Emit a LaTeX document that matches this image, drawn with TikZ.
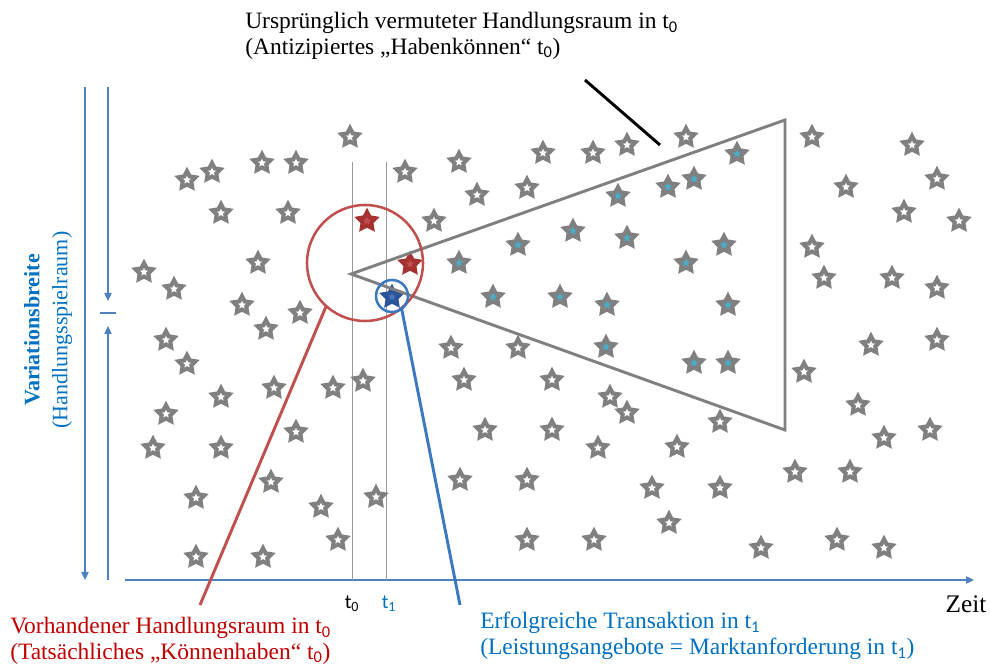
\documentclass[tikz,border=0pt]{standalone}
\usepackage{fontspec}
\setmainfont{Liberation Serif}
\newfontfamily\carl{Carlito}
\usepackage{xcolor}
\usetikzlibrary{shapes.geometric,arrows.meta}

\definecolor{axisblue}{RGB}{79,129,189}
\definecolor{txtblue}{RGB}{0,112,192}
\definecolor{txtred}{RGB}{192,0,0}
\definecolor{circred}{RGB}{192,80,77}
\definecolor{circblue}{RGB}{58,120,192}
\definecolor{stargray}{RGB}{128,128,128}
\definecolor{coreteal}{RGB}{75,172,198}
\definecolor{starred}{RGB}{165,50,48}
\definecolor{starblue}{RGB}{45,84,150}
\definecolor{coreblue}{RGB}{70,115,185}

\newcommand{\tsub}[1]{\textsubscript{\carl #1}}

\begin{document}
\begin{tikzpicture}[
    x=0.75pt, y=-0.75pt,
    gs/.style={star, star points=5, star point ratio=1.95, minimum size=20pt, inner sep=0pt, outer sep=0pt, fill=#1},
    gs/.default=stargray,
    core/.style={star, star points=5, star point ratio=2.2, minimum size=6.5pt, inner sep=0pt, fill=#1},
    ax/.style={draw=axisblue, line width=0.9pt, -{Triangle[length=6pt,width=5.5pt]}},
    tl/.style={draw=black!40, line width=0.6pt},
    ring/.style={circle, draw=#1, line width=1.9pt, inner sep=0pt, outer sep=0pt},
    lnk/.style={draw=#1, line width=2.2pt},
    lbl/.style={inner sep=0pt, align=left, anchor=north west, font=\fontsize{17.6}{19.4}\selectfont}
]
    \useasboundingbox (0,0) rectangle (990,666);

    % axes
    \draw [ax] (85,87) -- (85,580);
    \draw [ax] (108,87) -- (108,301);
    \draw [draw=axisblue, line width=0.9pt] (100,313) -- (116,313);
    \draw [ax] (108,580) -- (108,326);
    \draw [ax] (125,580) -- (974,580);
    \draw [tl] (352,162) -- (352,580);
    \draw [tl] (386,162) -- (386,580);

    % stars outside
    \foreach \x/\y [count=\i] in {350/137, 187/180, 212/172, 262/163, 296/163, 405/172, 221/213, 288/213,
        258/263, 144/272, 174/289, 242/305, 300/313, 266/329, 166/340,
        459/162, 543/153, 593/153, 627/145, 686/137, 477/195, 527/188, 434/221,
        812/137, 912/145, 846/187, 937/179, 904/212, 959/221, 812/247, 824/278, 892/278, 937/288, 871/345, 937/340,
        187/364, 221/397, 274/388, 333/388, 363/381, 166/414, 296/432, 153/448, 221/448, 271/482, 196/498,
        321/507, 376/497, 338/540, 196/557, 263/557,
        451/348, 518/348, 804/372, 464/380, 552/380, 610/397, 627/413, 720/422, 858/405, 485/430, 552/430,
        884/438, 930/430, 598/448, 677/447, 460/480, 527/480, 795/472, 850/472, 652/488, 720/488, 669/523,
        527/540, 594/540, 761/548, 837/540, 884/548}
    {
        \node [gs] (w\i) at (\x,\y) {};
        \node [core=white] (w\i c) at (w\i) {};
    }

    % stars inside
    \foreach \x/\y [count=\i] in {737/154, 618/196, 668/187, 694/179, 573/231, 627/238, 724/245, 518/245,
        459/263, 686/263, 493/297, 560/297, 607/305, 728/305, 606/347, 694/363, 728/363}
    {
        \node [gs] (t\i) at (\x,\y) {};
        \node [core=coreteal] (t\i c) at (t\i) {};
    }

    \node [gs=starred] (r1) at (367,221) {};
    \node [core=circred] (r1c) at (r1) {};
    \node [gs=starred] (r2) at (410,264) {};
    \node [core=circred] (r2c) at (r2) {};
    \node [gs=starblue] (b1) at (392,297) {};
    \node [core=coreblue] (b1c) at (b1) {};

    % triangle
    \draw [draw=stargray, line width=2.2pt, line join=miter] (351,274) -- (785,120) -- (785,430) -- cycle;

    \node [ring=circred, minimum size=87pt] (rc) at (365,263) {};
    \node [ring=circblue, minimum size=24pt] (bc) at (392,296) {};

    % labels
    \node [lbl] (top) at (245,12) {Ursprünglich vermuteter Handlungsraum in t\tsub{0}\\(Antizipiertes „Habenkönnen“ t\tsub{0})};
    \node [lbl, text=txtred] (rtxt) at (10,617) {Vorhandener Handlungsraum in t\tsub{0}\\(Tatsächliches „Könnenhaben“ t\tsub{0})};
    \node [lbl, text=txtblue] (btxt) at (480,612) {Erfolgreiche Transaktion in t\tsub{1}\\(Leistungsangebote = Marktanforderung in t\tsub{1})};

    \node [font=\carl\fontsize{15}{18}\selectfont] (t0) at (352,604) {t\textsubscript{0}};
    \node [font=\carl\fontsize{15}{18}\selectfont, text=txtblue] (t1) at (389,604) {t\textsubscript{1}};
    \node [font=\fontsize{19}{22}\selectfont] (zeit) at (966,604) {Zeit};

    \node [rotate=90, text=txtblue, font=\bfseries\fontsize{16.5}{19}\selectfont] (vb) at (32,330) {Variationsbreite};
    \node [rotate=90, text=txtblue, font=\fontsize{16.5}{19}\selectfont] (hs) at (62,330) {(Handlungsspielraum)};

    % pointers
    \coordinate (rend) at (200,605);
    \coordinate (bend) at (460,605);
    \coordinate (kstart) at (585,80);
    \coordinate (kend) at (660,145);
    \draw [lnk=circred] (rc.228) -- (rend);
    \draw [lnk=circblue] (bc.307) -- (bend);
    \draw [lnk=black] (kstart) -- (kend);
\end{tikzpicture}
\end{document}
